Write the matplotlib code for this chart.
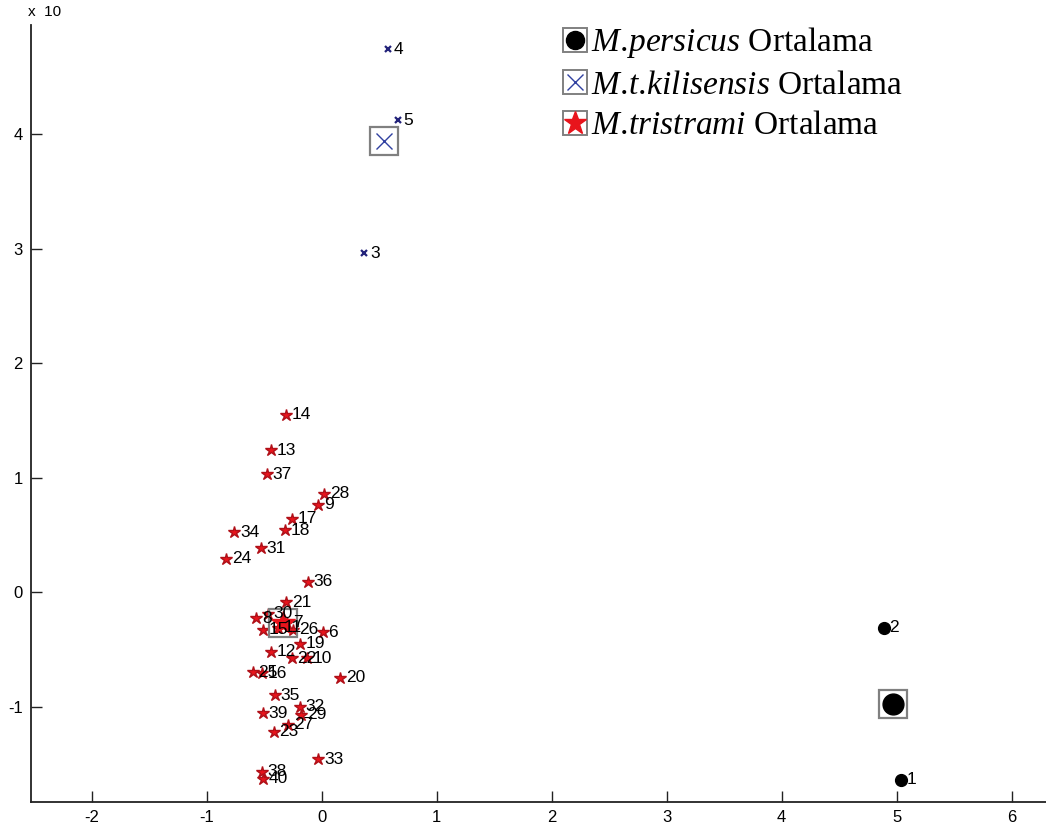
import numpy as np
import matplotlib
matplotlib.use('Agg')
import matplotlib.pyplot as plt
from matplotlib.legend_handler import HandlerTuple
from matplotlib.lines import Line2D

plt.rcParams['font.family'] = ['Liberation Sans', 'DejaVu Sans']
plt.rcParams['mathtext.fontset'] = 'custom'
plt.rcParams['mathtext.it'] = 'Liberation Serif:italic'
plt.rcParams['mathtext.rm'] = 'Liberation Serif'
plt.rcParams['axes.unicode_minus'] = False

# ---------- DATA ----------
# M.persicus
per_id = [1, 2]
per_x = [5.04, 4.89]
per_y = [-1.64, -0.31]

# M.t.kilisensis
kil_id = [3, 4, 5]
kil_x = [0.37, 0.58, 0.66]
kil_y = [2.96, 4.74, 4.12]

# M.tristrami
tri_id = [6, 7, 8, 9, 10, 11, 12, 13, 14, 15, 16, 17, 18, 19, 20, 21, 22, 23,
          24, 25, 26, 27, 28, 29, 30, 31, 32, 33, 34, 35, 36, 37, 38, 39, 40]
tri_x = [0.01, -0.30, -0.57, -0.03, -0.13, -0.38, -0.44, -0.44, -0.31, -0.51,
         -0.52, -0.26, -0.32, -0.19, 0.16, -0.31, -0.26, -0.42, -0.83, -0.60,
         -0.25, -0.29, 0.02, -0.18, -0.47, -0.53, -0.19, -0.03, -0.76, -0.41,
         -0.12, -0.48, -0.52, -0.51, -0.51]
tri_y = [-0.35, -0.27, -0.23, 0.76, -0.58, -0.31, -0.52, 1.24, 1.55, -0.33,
         -0.71, 0.64, 0.54, -0.45, -0.75, -0.09, -0.58, -1.22, 0.29, -0.70,
         -0.33, -1.16, 0.86, -1.07, -0.19, 0.38, -1.00, -1.46, 0.52, -0.90,
         0.09, 1.03, -1.57, -1.06, -1.63]

legend_labels = [r'$M.\!persicus$ Ortalama',
                 r'$M.\!t.\!kilisensis$ Ortalama',
                 r'$M.\!tristrami$ Ortalama']

red = '#e8141c'
navy = '#23237a'
box = '#808080'

fig = plt.figure(figsize=(10.46, 8.31), dpi=100)
ax = fig.add_axes([31 / 1046, 29 / 831, 1015 / 1046, 777 / 831])

# individual points
ax.plot(per_x, per_y, 'o', color='black', ms=8.5, ls='none')
ax.plot(kil_x, kil_y, 'x', color=navy, ms=4.5, mew=1.6, ls='none')
ax.plot(tri_x, tri_y, '*', color=red, mec='#b01018', ms=9, ls='none')

# point numbers
for ids, xs, ys in [(per_id, per_x, per_y), (kil_id, kil_x, kil_y), (tri_id, tri_x, tri_y)]:
    for i, x, y in zip(ids, xs, ys):
        ax.annotate(str(i), (x, y), xytext=(4, 0), textcoords='offset points',
                    va='center', ha='left', fontsize=12.5)

# group means with box
for xs, ys, mk, kw in [(per_x, per_y, 'o', dict(color='black', ms=15)),
                       (kil_x, kil_y, 'x', dict(color='#3040a0', ms=12, mew=1.0)),
                       (tri_x, tri_y, '*', dict(color=red, ms=18))]:
    mx, my = np.mean(xs), np.mean(ys)
    ax.plot(mx, my, 's', mfc='none', mec=box, ms=20, mew=1.6)
    ax.plot(mx, my, mk, ls='none', **kw)

ax.set_xlim(-2.53, 6.30)
ax.set_ylim(-1.834, 4.952)
ax.set_xticks(range(-2, 7))
ax.set_yticks(range(-1, 5))
ax.spines['top'].set_visible(False)
ax.spines['right'].set_visible(False)
for s in ['left', 'bottom']:
    ax.spines[s].set_linewidth(1.3)
    ax.spines[s].set_color('#222222')
ax.tick_params(direction='in', length=8, width=1.0, labelsize=12, pad=6, color='#222222')

# legend with boxed markers
sq = Line2D([], [], marker='s', mfc='none', mec=box, ms=17, mew=1.4, ls='none')
h1 = (sq, Line2D([], [], marker='o', color='black', ms=13, ls='none'))
h2 = (sq, Line2D([], [], marker='x', color='#3040a0', ms=12, mew=1.0, ls='none'))
h3 = (sq, Line2D([], [], marker='*', color=red, ms=17, ls='none'))
ax.legend([h1, h2, h3], legend_labels, handler_map={tuple: HandlerTuple(ndivide=1)},
          loc='upper left', bbox_to_anchor=(548 / 1046, 1 - 12 / 831),
          bbox_transform=fig.transFigure, frameon=False,
          prop={'family': 'Liberation Serif', 'size': 24},
          handlelength=0.8, handletextpad=0.1, labelspacing=0.3, borderaxespad=0)

fig.text(28 / 1046, 1 - 16 / 831, 'x  10', fontsize=11, va='baseline', ha='left')

fig.savefig('out.png', dpi=100)
